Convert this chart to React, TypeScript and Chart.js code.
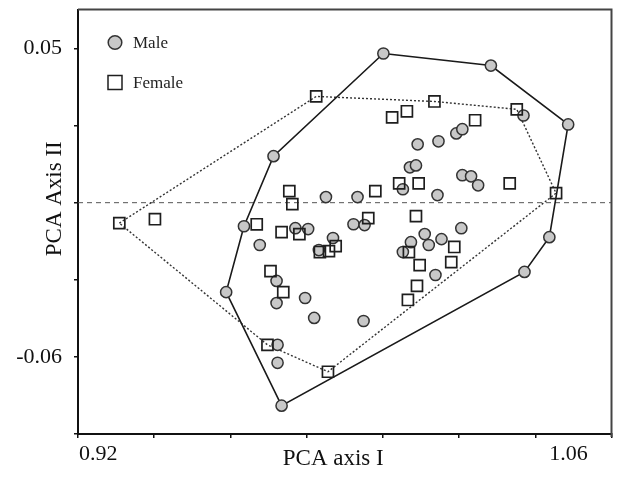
import React, { useEffect, useRef } from 'react';
import { Chart, registerables } from 'chart.js';

Chart.register(...registerables);

// ---- data ----
const seriesLabels = ['Male', 'Female'];

// Male: first 9 points are the convex hull vertices (in order)
const maleX = [1.0049, 1.0369, 1.0599, 1.0543, 1.0469, 0.9746, 0.9581, 0.9634, 0.9722,
  1.0466, 1.0151, 1.0213, 1.0266, 1.0284, 1.0128, 1.0146, 1.0284, 1.0310, 1.0331,
  1.0107, 1.0210, 0.9878, 0.9972, 0.9787, 0.9825, 0.9960, 0.9993, 0.9899, 0.9857,
  1.0131, 1.0172, 1.0184, 1.0222, 1.0107, 1.0281, 1.0204, 0.9681, 0.9731, 0.9731,
  0.9816, 0.9843, 0.9990, 0.9734, 0.9734];
const maleY = [0.0482, 0.0439, 0.0229, -0.0173, -0.0297, -0.0774, -0.0369, -0.0134, 0.0116,
  0.0261, 0.0158, 0.0169, 0.0197, 0.0212, 0.0076, 0.0083, 0.0048, 0.0044, 0.0012,
  -0.0002, -0.0023, -0.0030, -0.0030, -0.0141, -0.0144, -0.0127, -0.0130, -0.0176, -0.0219,
  -0.0191, -0.0162, -0.0201, -0.0180, -0.0226, -0.0141, -0.0308, -0.0201, -0.0329, -0.0408,
  -0.0390, -0.0461, -0.0472, -0.0557, -0.0621];
const maleHull = [0, 1, 2, 3, 4, 5, 6, 7, 8, 0];

// Female: first 7 points are the convex hull vertices (in order)
const femaleX = [0.9263, 0.9849, 1.0201, 1.0446, 1.0563, 0.9884, 0.9704,
  0.9369, 0.9672, 0.9746, 0.9799, 0.9769, 0.9778, 0.9713, 0.9751, 1.0075, 1.0119,
  1.0322, 1.0025, 1.0096, 1.0154, 1.0425, 1.0004, 1.0146, 0.9907, 0.9860, 0.9887,
  1.0125, 1.0260, 1.0251, 1.0157, 1.0149, 1.0122];
const femaleY = [-0.0123, 0.0329, 0.0311, 0.0283, -0.0016, -0.0653, -0.0557,
  -0.0109, -0.0127, -0.0155, -0.0162, -0.0009, -0.0055, -0.0294, -0.0369, 0.0254, 0.0276,
  0.0244, -0.0009, 0.0019, 0.0019, 0.0019, -0.0105, -0.0098, -0.0205, -0.0226, -0.0223,
  -0.0226, -0.0208, -0.0262, -0.0273, -0.0347, -0.0397];
const femaleHull = [0, 1, 2, 3, 4, 5, 6, 0];

const xTickLabels = [0.92, 1.06];
const yTickLabels = [0.05, -0.06];
const refLineY = -0.005;
const xTitle = 'PCA axis I';
const yTitle = 'PCA Axis II';

// ---- axis ranges ----
const X_MIN = 0.914;
const X_MAX = 1.0728;
const Y_MIN = -0.0875;
const Y_MAX = 0.0639;
const X_MARK_COUNT = 7;
const Y_MARK_STEP = 0.0275;

const FONT = '"Liberation Serif", "Times New Roman", serif';

const toPoints = (xs: number[], ys: number[]) => xs.map((x, i) => ({ x, y: ys[i] }));
const hullPoints = (xs: number[], ys: number[], idx: number[]) => idx.map((i) => ({ x: xs[i], y: ys[i] }));

const isLabelValue = (list: number[], v: number) => list.some((l) => Math.abs(l - v) < 1e-7);

const decorPlugin = {
  id: 'decor',
  afterDraw(chart: any) {
    const { ctx, chartArea: a } = chart;
    ctx.save();
    // top and right frame
    ctx.strokeStyle = '#444';
    ctx.lineWidth = 2;
    ctx.beginPath();
    ctx.moveTo(a.left, a.top);
    ctx.lineTo(a.right, a.top);
    ctx.lineTo(a.right, a.bottom + 3);
    ctx.stroke();

    // legend
    [0, 1].forEach((di, i) => {
      const ds = chart.data.datasets[di];
      const cx = a.left + 37;
      const cy = a.top + 33 + i * 40;
      ctx.lineWidth = 1.5;
      ctx.strokeStyle = ds.borderColor;
      ctx.fillStyle = ds.backgroundColor;
      ctx.beginPath();
      if (ds.pointStyle === 'circle') ctx.arc(cx, cy, 6.8, 0, Math.PI * 2);
      else ctx.rect(cx - 7, cy - 7, 14, 14);
      ctx.fill();
      ctx.stroke();
      ctx.fillStyle = '#222';
      ctx.font = `17px ${FONT}`;
      ctx.textAlign = 'left';
      ctx.textBaseline = 'middle';
      ctx.fillText(ds.label, a.left + 55, cy + 1);
    });

    // axis titles
    ctx.fillStyle = '#111';
    ctx.font = `23px ${FONT}`;
    ctx.textAlign = 'center';
    ctx.textBaseline = 'alphabetic';
    ctx.fillText(xTitle, (a.left + a.right) / 2 - 11.5, chart.height - 14);
    ctx.translate(61, (a.top + a.bottom) / 2 - 23);
    ctx.rotate(-Math.PI / 2);
    ctx.fillText(yTitle, 0, 0);
    ctx.restore();
  },
};

export default function App() {
  const ref = useRef<HTMLCanvasElement>(null);
  useEffect(() => {
    if (!ref.current) return;
    const chart = new Chart(ref.current, {
      type: 'scatter',
      data: {
        datasets: [
          {
            label: seriesLabels[0],
            data: toPoints(maleX, maleY),
            pointStyle: 'circle',
            pointRadius: 5.6,
            borderWidth: 1.5,
            backgroundColor: '#c8c8c8',
            borderColor: '#333333',
            order: 1,
          },
          {
            label: seriesLabels[1],
            data: toPoints(femaleX, femaleY),
            pointStyle: 'rect',
            pointRadius: 7.8,
            borderWidth: 1.7,
            backgroundColor: 'rgba(255,255,255,0)',
            borderColor: '#1e1e1e',
            order: 0,
          },
          {
            label: 'Male hull',
            data: hullPoints(maleX, maleY, maleHull),
            showLine: true,
            pointRadius: 0,
            borderColor: '#1a1a1a',
            borderWidth: 1.6,
            tension: 0,
            order: 3,
          },
          {
            label: 'Female hull',
            data: hullPoints(femaleX, femaleY, femaleHull),
            showLine: true,
            pointRadius: 0,
            borderColor: '#333333',
            borderWidth: 1.4,
            borderDash: [2, 2],
            tension: 0,
            order: 3,
          },
          {
            label: 'Reference',
            data: [{ x: X_MIN, y: refLineY }, { x: X_MAX, y: refLineY }],
            showLine: true,
            pointRadius: 0,
            borderColor: '#555555',
            borderWidth: 1,
            borderDash: [5, 4],
            order: 4,
          },
        ],
      },
      options: {
        responsive: true,
        maintainAspectRatio: false,
        animation: false,
        events: [],
        layout: { padding: { top: 9, right: 3, left: 0, bottom: 0 } },
        plugins: {
          legend: { display: false },
          tooltip: { enabled: false },
        },
        scales: {
          x: {
            type: 'linear',
            min: X_MIN,
            max: X_MAX,
            afterBuildTicks: (scale: any) => {
              const marks = [];
              for (let k = 0; k <= X_MARK_COUNT; k++) {
                marks.push({ value: X_MIN + (k * (X_MAX - X_MIN)) / X_MARK_COUNT, mark: true });
              }
              const labels = xTickLabels.map((v) => ({ value: v, mark: false }));
              scale.ticks = [...marks, ...labels].sort((p, q) => p.value - q.value);
            },
            afterFit: (scale: any) => {
              scale.height = 45;
              scale.paddingLeft = 0;
              scale.paddingRight = 0;
              scale.paddingTop = 0;
              scale.paddingBottom = 0;
            },
            border: { display: true, color: '#111', width: 2 },
            grid: {
              drawOnChartArea: false,
              drawTicks: true,
              tickLength: 4,
              lineWidth: 1.5,
              color: (c: any) => (c.tick && c.tick.mark ? '#111' : 'rgba(0,0,0,0)'),
            },
            ticks: {
              autoSkip: false,
              maxRotation: 0,
              padding: 3,
              color: '#111',
              font: { family: FONT, size: 22 },
              callback: (value: any, index: number, ticks: any[]) =>
                ticks[index] && ticks[index].mark ? '' : Number(value).toFixed(2),
            },
            title: { display: false },
          },
          y: {
            type: 'linear',
            min: Y_MIN,
            max: Y_MAX,
            afterBuildTicks: (scale: any) => {
              const ticks = [];
              for (let k = 0; k <= 5; k++) ticks.push({ value: yTickLabels[0] - k * Y_MARK_STEP });
              scale.ticks = ticks.sort((p, q) => p.value - q.value);
            },
            afterFit: (scale: any) => {
              scale.width = 78;
              scale.paddingLeft = 0;
              scale.paddingRight = 0;
              scale.paddingTop = 0;
              scale.paddingBottom = 0;
            },
            border: { display: true, color: '#111', width: 2 },
            grid: {
              drawOnChartArea: false,
              drawTicks: true,
              tickLength: 4,
              lineWidth: 1.5,
              color: '#111',
            },
            ticks: {
              autoSkip: false,
              padding: 12,
              color: '#111',
              font: { family: FONT, size: 22 },
              callback: (value: any) => {
                const v = Number(value);
                return isLabelValue(yTickLabels, v) ? v.toFixed(2) : '';
              },
            },
            title: { display: false },
          },
        },
      },
      plugins: [decorPlugin],
    } as any);
    return () => chart.destroy();
  }, []);

  return (
    <div style={{ position: 'absolute', left: 0, top: 0, width: 621, height: 479, background: '#fff' }}>
      <canvas ref={ref} />
    </div>
  );
}
